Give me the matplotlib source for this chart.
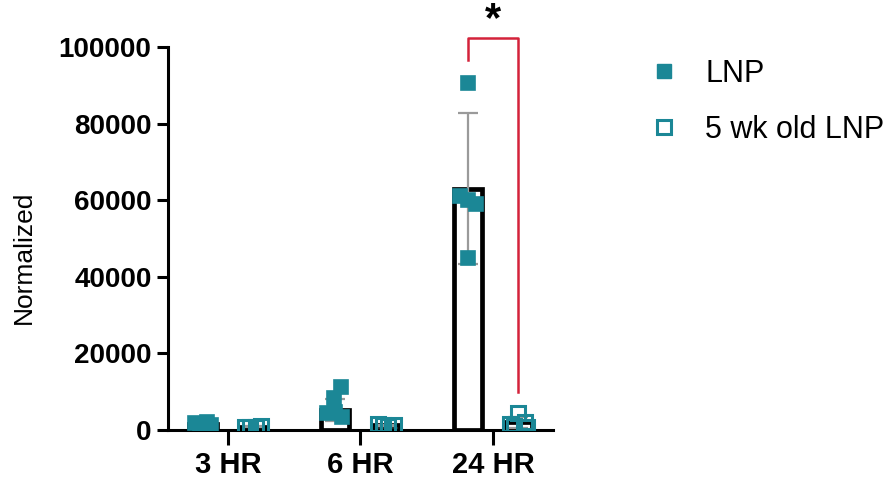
import numpy as np
import matplotlib.pyplot as plt
from matplotlib.lines import Line2D

plt.rcParams['font.family'] = ['Liberation Sans', 'DejaVu Sans']

groups = ['3 HR', '6 HR', '24 HR']
series = ['LNP', '5 wk old LNP']

# individual points
lnp_pts = [
    [1800, 1500, 2000, 1300, 1600],
    [11200, 8300, 4400, 3400, 4800],
    [90500, 61000, 60000, 59000, 45000],
]
old_pts = [
    [900, 700, 800, 1000],
    [1500, 1200, 1000, 1300],
    [4500, 1500, 2200, 1000, 800],
]
# bar heights (mean) and SD
lnp_mean = [1640, 5200, 63000]
lnp_sd = [300, 2800, 19700]
old_mean = [850, 1250, 2000]
old_sd = [130, 200, 1500]

yticks = [0, 20000, 40000, 60000, 80000, 100000]

teal = '#1b8796'
red = '#d4223a'

# horizontal scatter inside each bar
jit_lnp = [
    [-0.06, -0.02, 0.03, 0.06, 0.0],
    [0.04, -0.01, -0.06, 0.05, 0.0],
    [0.0, -0.06, 0.0, 0.06, 0.0],
]
jit_old = [
    [-0.06, -0.02, 0.02, 0.06],
    [-0.06, -0.02, 0.02, 0.06],
    [0.0, -0.06, 0.05, -0.03, 0.07],
]

off = 0.19
bw = 0.21

fig = plt.figure(figsize=(8.9, 4.8), dpi=100)
ax = fig.add_axes([0.189, 0.104, 0.432, 0.798])

x = np.arange(len(groups))
ax.bar(x - off, lnp_mean, bw, color='white', edgecolor='black', linewidth=3.4, zorder=2)
ax.bar(x + off, old_mean, bw, color='white', edgecolor='black', linewidth=3.4, zorder=2)
ax.errorbar(x - off, lnp_mean, yerr=lnp_sd, fmt='none', ecolor='#9a9a9a',
            elinewidth=1.6, capsize=7, capthick=1.6, zorder=3)
ax.errorbar(x + off, old_mean, yerr=old_sd, fmt='none', ecolor='#9a9a9a',
            elinewidth=1.6, capsize=7, capthick=1.6, zorder=3)

for i in range(len(groups)):
    ax.plot(x[i] - off + np.array(jit_lnp[i]), lnp_pts[i], 's', ms=10,
            mfc=teal, mec=teal, mew=1.2, ls='none', zorder=4)
    ax.plot(x[i] + off + np.array(jit_old[i]), old_pts[i], 's', ms=9.5,
            mfc='none', mec=teal, mew=2.2, ls='none', zorder=4)

# significance bracket
x1, x2 = x[2] - off, x[2] + off
ax.plot([x1, x1, x2, x2], [96500, 102300, 102300, 10000], color=red, lw=1.8,
        clip_on=False, zorder=5)
ax.text((x1 + x2) / 2, 107000, '*', ha='center', va='center', fontsize=30,
        fontweight='bold', clip_on=False)

ax.set_xlim(-0.45, 2.45)
ax.set_ylim(0, 100000)
ax.set_yticks(yticks)
ax.set_yticklabels([str(v) for v in yticks], fontsize=20, fontweight='bold')
ax.set_xticks(x)
ax.set_xticklabels(groups, fontsize=21, fontweight='bold')
ax.set_ylabel('Normalized', fontsize=19)
ax.yaxis.set_label_coords(-0.345, 0.45)

for s in ['top', 'right']:
    ax.spines[s].set_visible(False)
for s in ['left', 'bottom']:
    ax.spines[s].set_linewidth(2.2)
ax.tick_params(axis='y', length=8, width=2.2, pad=4)
ax.tick_params(axis='x', length=11, width=2.2, pad=4)

handles = [
    Line2D([], [], marker='s', ls='none', ms=10, mfc=teal, mec=teal),
    Line2D([], [], marker='s', ls='none', ms=9.5, mfc='white', mec=teal, mew=2.2),
]
fig.legend(handles, series, loc='upper left', bbox_to_anchor=(0.698, 0.935),
           frameon=False, fontsize=22, handletextpad=0.85, labelspacing=0.85,
           handlelength=1.0)

fig.savefig('out.png', dpi=100)
